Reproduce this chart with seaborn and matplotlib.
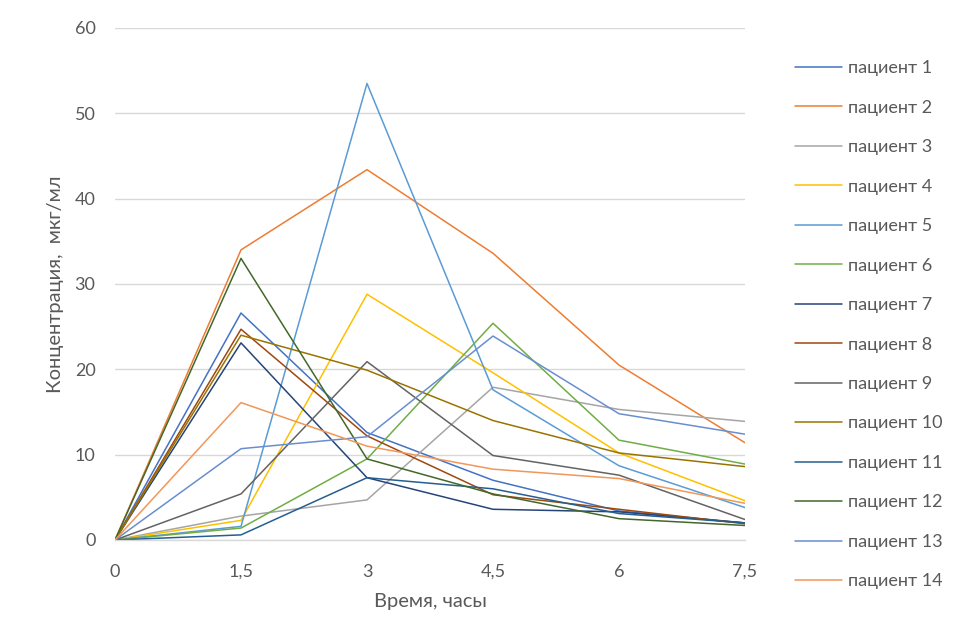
import numpy as np
import pandas as pd
import matplotlib
matplotlib.use("Agg")
import matplotlib.pyplot as plt
import seaborn as sns

times = [0, 1.5, 3, 4.5, 6, 7.5]
time_labels = ["0", "1,5", "3", "4,5", "6", "7,5"]
patients = [f"пациент {i}" for i in range(1, 15)]

p1 = [0, 26.6, 12.6, 7.0, 3.4, 2.0]
p2 = [0, 34.0, 43.4, 33.6, 20.5, 11.4]
p3 = [0, 2.8, 4.7, 17.9, 15.3, 13.9]
p4 = [0, 2.3, 28.8, 19.6, 10.2, 4.6]
p5 = [0, 1.6, 53.5, 17.6, 8.7, 3.8]
p6 = [0, 1.4, 9.5, 25.4, 11.7, 8.9]
p7 = [0, 23.1, 7.3, 3.6, 3.3, 2.0]
p8 = [0, 24.7, 12.2, 5.3, 3.6, 1.9]
p9 = [0, 5.4, 20.9, 9.9, 7.6, 2.4]
p10 = [0, 24.0, 19.9, 14.0, 10.2, 8.6]
p11 = [0, 0.6, 7.3, 6.0, 3.1, 2.0]
p12 = [0, 33.0, 9.5, 5.4, 2.5, 1.7]
p13 = [0, 10.7, 12.1, 23.9, 14.8, 12.4]
p14 = [0, 16.1, 11.0, 8.3, 7.2, 4.3]
series = [p1, p2, p3, p4, p5, p6, p7, p8, p9, p10, p11, p12, p13, p14]

colors = ["#4472C4", "#ED7D31", "#A5A5A5", "#FFC000", "#5B9BD5", "#70AD47",
          "#264478", "#9E480E", "#636363", "#997300", "#255E91", "#43682B",
          "#698ED0", "#F1975A"]

rows = []
for name, vals in zip(patients, series):
    for t, v in zip(times, vals):
        rows.append({"t": t, "c": v, "p": name})
df = pd.DataFrame(rows)

sns.set_theme(style="white")
plt.rcParams['font.family'] = ['Lato', 'DejaVu Sans']

fig = plt.figure(figsize=(9.6, 6.42), dpi=100)
ax = fig.add_axes([115/960, 1 - 540/642, (745-115)/960, (540-28)/642])

sns.lineplot(data=df, x="t", y="c", hue="p", palette=colors, hue_order=patients,
             linewidth=1.1, ax=ax, legend=True, sort=False)

ax.set_xlim(0, 7.5)
ax.set_ylim(0, 60)
ax.set_xticks(times)
ax.set_xticklabels(time_labels)
ax.set_yticks(range(0, 61, 10))
ax.grid(axis="y", color="#D9D9D9", linewidth=1.0)
ax.grid(axis="x", visible=False)
for s in ["top", "right", "left"]:
    ax.spines[s].set_visible(False)
ax.spines["bottom"].set_color("#D9D9D9")
ax.spines["bottom"].set_linewidth(1.0)
ax.tick_params(axis="both", length=0, labelsize=13, labelcolor="#595959")
ax.tick_params(axis="x", pad=17)
ax.tick_params(axis="y", pad=14)
ax.set_xlabel("Время, часы", fontsize=14.5, color="#595959", labelpad=10)
ax.set_ylabel("Концентрация,  мкг/мл", fontsize=14.5, color="#595959", labelpad=8)

handles, labels = ax.get_legend_handles_labels()
ax.legend(handles, labels, loc="upper left", bbox_to_anchor=(788/960, 1 - 53/642),
          bbox_transform=fig.transFigure, frameon=False, fontsize=13,
          labelcolor="#595959", handlelength=2.6, handletextpad=0.3,
          labelspacing=1.3, borderaxespad=0)

fig.savefig("out.png", dpi=100)
